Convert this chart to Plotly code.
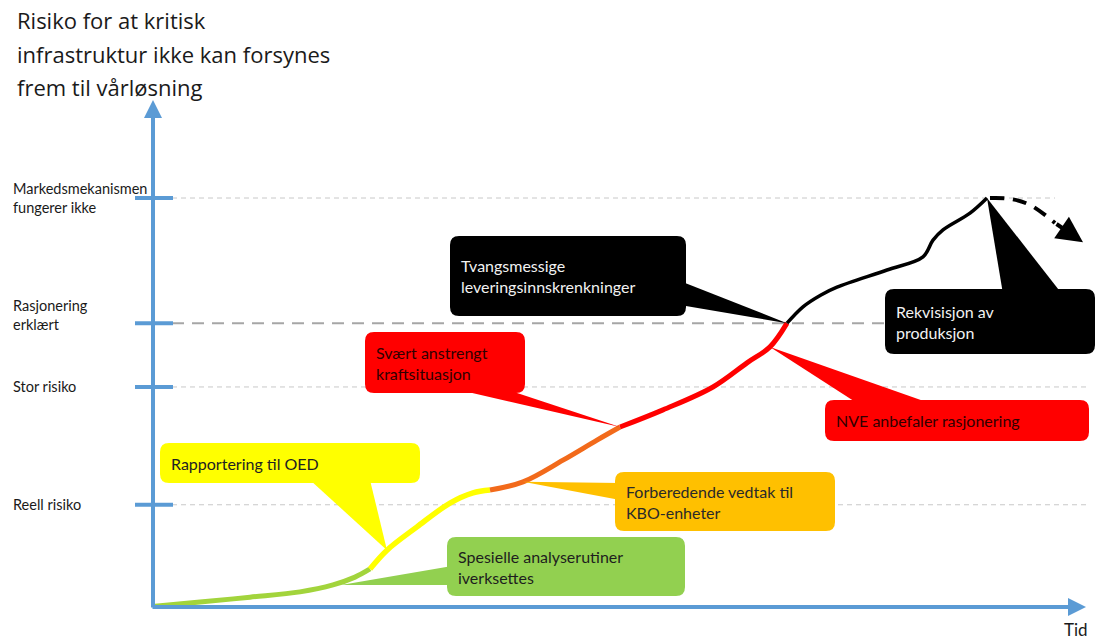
import plotly.graph_objects as go

# ---------------- data ----------------
title_lines = ["Risiko for at kritisk", "infrastruktur ikke kan forsynes", "frem til vårløsning"]
level_labels = ["Reell risiko", "Stor risiko", "Rasjonering<br>erklært", "Markedsmekanismen<br>fungerer ikke"]
level_values = [25.0, 53.8, 69.4, 100.0]
x_label = "Tid"

# risk curve (time, risk), split into coloured phases
green_t = [0.2, 4.7, 9.7, 14.7, 18.0, 20.2, 21.7]
green_r = [0.2, 1.2, 2.4, 3.7, 5.4, 7.3, 9.3]
yellow_t = [21.7, 23.4, 26.4, 29.7, 32.0, 33.7]
yellow_r = [9.3, 13.9, 19.6, 25.4, 27.9, 28.6]
orange_t = [33.7, 37.0, 41.0, 44.4, 46.7]
orange_r = [28.6, 30.6, 35.9, 40.8, 44.0]
red_t = [46.7, 51.0, 56.0, 59.4, 61.7, 63.4]
red_r = [44.0, 48.2, 53.8, 59.7, 63.6, 69.4]
black_t = [63.4, 65.0, 66.8, 68.4, 73.4, 77.0, 78.0, 79.0, 81.7, 83.4]
black_r = [69.4, 73.4, 76.3, 78.2, 82.4, 85.6, 89.7, 92.2, 96.3, 100.0]
outlook_t = [83.7, 85.7, 87.7, 90.2, 93.0]
outlook_r = [100.0, 99.8, 98.3, 93.9, 89.2]

callout_texts = [
    "Rapportering til OED",
    "Spesielle analyserutiner<br>iverksettes",
    "Forberedende vedtak til<br>KBO-enheter",
    "Svært anstrengt<br>kraftsituasjon",
    "Tvangsmessige<br>leveringsinnskrenkninger",
    "NVE anbefaler rasjonering",
    "Rekvisisjon av<br>produksjon",
]

# ---------------- layout helpers (pixel -> data) ----------------
X0_PX, Y0_PX, SX, SY = 153.0, 607.0, 10.0, 4.09
W, H = 1099, 641
def tx(px):
    return (px - X0_PX) / SX
def ry(py):
    return (Y0_PX - py) / SY

def rrect_path(x0, y0, x1, y1, rad=9):
    pts = [("M", [(x0 + rad, y0)]), ("L", [(x1 - rad, y0)]), ("Q", [(x1, y0), (x1, y0 + rad)]),
           ("L", [(x1, y1 - rad)]), ("Q", [(x1, y1), (x1 - rad, y1)]), ("L", [(x0 + rad, y1)]),
           ("Q", [(x0, y1), (x0, y1 - rad)]), ("L", [(x0, y0 + rad)]), ("Q", [(x0, y0), (x0 + rad, y0)])]
    s = ""
    for cmd, ps in pts:
        s += cmd + " ".join(f"{tx(a):.3f},{ry(b):.3f}" for a, b in ps) + " "
    return s + "Z"

def wedge_path(b1, b2, tip):
    return (f"M{tx(b1[0]):.3f},{ry(b1[1]):.3f} L{tip[0]:.3f},{tip[1]:.3f} "
            f"L{tx(b2[0]):.3f},{ry(b2[1]):.3f} Z")

fig = go.Figure()

BLUE = "#5B9BD5"

# horizontal guide lines and ticks
shapes = []
grid_ends = [1090, 1090, 1090, 1055]
for i, lv in enumerate(level_values):
    is_ras = i == 2
    shapes.append(dict(type="line", xref="x", yref="y", layer="below",
                       x0=tx(172), x1=tx(grid_ends[i]), y0=lv, y1=lv,
                       line=dict(color="#A6A6A6" if is_ras else "#C8C8C8",
                                 width=2 if is_ras else 1,
                                 dash="12px,8px" if is_ras else "5px,4px")))
    shapes.append(dict(type="line", xref="x", yref="y", layer="above",
                       x0=tx(135), x1=tx(173), y0=lv, y1=lv,
                       line=dict(color=BLUE, width=4)))

# curve segments
segs = [(green_t, green_r, "#A2D43C", 5), (yellow_t, yellow_r, "#FFFF00", 5.5),
        (orange_t, orange_r, "#F26A1B", 5), (red_t, red_r, "#FF0000", 5),
        (black_t, black_r, "#000000", 3.5)]
for t, r, c, w in segs:
    fig.add_trace(go.Scatter(x=t, y=r, mode="lines", line=dict(color=c, width=w, shape="spline"),
                             hoverinfo="skip", showlegend=False))
fig.add_trace(go.Scatter(x=outlook_t[:-1], y=outlook_r[:-1], mode="lines",
                         line=dict(color="#000000", width=4, dash="14px,9px", shape="spline"),
                         hoverinfo="skip", showlegend=False))

# callouts: box (px), fill, text colour, wedge base points (px), tip from data
callouts = [
    ((160, 443, 420, 483), "#FFFF00", "#222222", (310, 480), (370, 480), (yellow_t[1], yellow_r[1])),
    ((447, 537, 685, 596), "#92D050", "#1E1E1E", (452, 566), (452, 585), (green_t[4] + 0.8, green_r[4])),
    ((615, 472, 835, 531), "#FFC000", "#2A2A2A", (620, 483), (620, 500), (orange_t[1], orange_r[1])),
    ((365, 332, 525, 393), "#FF0000", "#300000", (455, 389), (505, 389), (red_t[0], red_r[0])),
    ((450, 236, 686, 316), "#000000", "#F2F2F2", (680, 281), (680, 305), (red_t[-1], red_r[-1])),
    ((825, 400, 1089, 441), "#FF0000", "#300000", (860, 405), (935, 405), (red_t[4], red_r[4])),
    ((885, 289, 1095, 354), "#000000", "#F2F2F2", (1003, 294), (1062, 294), (black_t[-1], black_r[-1])),
]
annotations = []
for (box, fill, tcol, b1, b2, tip), text in zip(callouts, callout_texts):
    x0, y0, x1, y1 = box
    shapes.append(dict(type="path", xref="x", yref="y", layer="above", path=wedge_path(b1, b2, tip),
                       fillcolor=fill, line=dict(width=0)))
    shapes.append(dict(type="path", xref="x", yref="y", layer="above", path=rrect_path(x0, y0, x1, y1),
                       fillcolor=fill, line=dict(width=0)))
    annotations.append(dict(x=tx(x0 + 9), y=ry((y0 + y1) / 2), xref="x", yref="y", text=text,
                            showarrow=False, xanchor="left", yanchor="middle", align="left",
                            font=dict(family="Lato", size=16, color=tcol)))

# axes arrows
annotations.append(dict(x=0, y=ry(100), ax=0, ay=ry(609), xref="x", yref="y", axref="x", ayref="y",
                        text="", showarrow=True, arrowhead=2, arrowsize=0.9, arrowwidth=4, arrowcolor=BLUE))
annotations.append(dict(x=tx(1086), y=0, ax=tx(151), ay=0, xref="x", yref="y", axref="x", ayref="y",
                        text="", showarrow=True, arrowhead=2, arrowsize=0.9, arrowwidth=4, arrowcolor=BLUE))
# outlook arrowhead
annotations.append(dict(x=outlook_t[-1], y=outlook_r[-1], ax=outlook_t[-2], ay=outlook_r[-2],
                        xref="x", yref="y", axref="x", ayref="y", text="", showarrow=True,
                        arrowhead=2, arrowsize=1.3, arrowwidth=4, arrowcolor="#000000"))

# title
for i, line in enumerate(title_lines):
    annotations.append(dict(x=tx(15), y=ry(20 + 33.5 * i), xref="x", yref="y", text=line, showarrow=False,
                            xanchor="left", yanchor="middle", font=dict(family="Open Sans", size=22, color="#1A1A1A")))

# level labels
label_shift = [0, 0, 8, 0]
for lab, lv, sh in zip(level_labels, level_values, label_shift):
    annotations.append(dict(x=tx(11), y=lv, xref="x", yref="y", text=lab, showarrow=False,
                            xanchor="left", yanchor="middle", align="left", yshift=sh,
                            font=dict(family="Lato", size=14.5, color="#1A1A1A")))

annotations.append(dict(x=tx(1076), y=ry(629), xref="x", yref="y", text=x_label, showarrow=False,
                        xanchor="center", yanchor="middle", font=dict(family="Lato", size=17, color="#1A1A1A")))

fig.update_layout(
    width=W, height=H, margin=dict(l=0, r=0, t=0, b=0),
    paper_bgcolor="white", plot_bgcolor="white",
    xaxis=dict(visible=False, range=[tx(0), tx(W)], fixedrange=True),
    yaxis=dict(visible=False, range=[ry(H), ry(0)], fixedrange=True),
    shapes=shapes, annotations=annotations, showlegend=False,
)

fig.write_html("out.html", config={"displayModeBar": False})
with open("out.html", encoding="utf-8") as f:
    html = f.read()
html = html.replace("<body>", '<body style="margin:0;overflow:hidden">', 1)
with open("out.html", "w", encoding="utf-8") as f:
    f.write(html)
